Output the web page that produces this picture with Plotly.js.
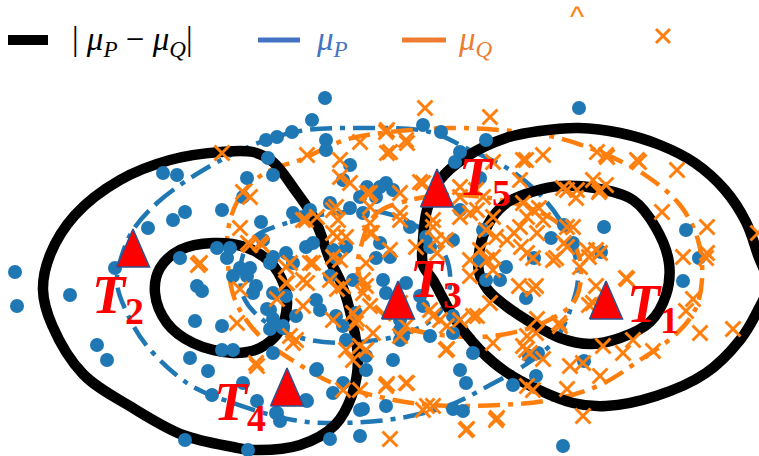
<!DOCTYPE html>
<html>
<head>
<meta charset="utf-8">
<script src="https://cdn.plot.ly/plotly-3.0.1.min.js"></script>
<style>html,body{margin:0;padding:0;background:#fff;}#chart{width:759px;height:456px;}</style>
</head>
<body>
<div id="chart"></div>
<script>
// ---- contour lines (|muP - muQ|, black) ----
var diffOuterLeftX = [220,253,273,295,315,330,342,352,358,352,335,300,253,233,183,133,83,52,43,50,75,120,170,220];
var diffOuterLeftY = [152,152,162,190,220,260,285,320,360,395,425,445,450,447,435,408,374,325,290,255,215,180,160,152];
var diffInnerLeftX = [213,245,270,284,287,280,260,233,193,167,155,160,180,213];
var diffInnerLeftY = [243,247,262,285,305,330,348,353,343,323,293,268,250,243];
var diffOuterRightX = [423,423,427,440,466,506,540,579,620,660,695,725,746,758,768,757,740,706,656,606,573,539,506,480,453,433,423];
var diffOuterRightY = [265,240,210,180,157,138,131,128,133,145,163,190,222,255,285,312,340,373,396,406,403,390,372,350,316,280,265];
var diffInnerRightX = [479,481,492,508,535,560,595,633,656,669,666,650,620,590,560,530,506,488,479];
var diffInnerRightY = [272,243,218,202,191,186,188,200,228,263,295,322,338,344,338,322,306,290,272];

// ---- muP contours (blue dash-dot) ----
var muPOuterX = [133,157,200,253,300,360,430,470,510,545,568,578,572,555,525,490,450,400,340,293,233,190,147,127,117,122,133];
var muPOuterY = [230,203,172,145,131,128,132,150,170,200,235,275,305,340,365,385,405,418,423,420,403,385,346,313,283,255,230];
var muPInnerX = [257,290,320,350,385,420,445,450,440,410,360,310,270,245,240,245,257];
var muPInnerY = [235,222,215,212,213,228,255,285,312,332,342,340,325,300,272,250,235];

// ---- muQ contours (orange dash-dot) ----
var muQOuterX = [228,238,255,275,300,345,390,450,500,550,600,645,680,698,702,695,675,640,600,550,500,430,380,330,300,270,250,235,228,228];
var muQOuterY = [230,200,180,168,160,140,132,128,130,136,152,175,205,240,280,310,335,360,385,400,405,405,397,382,365,345,325,300,265,230];
var muQInnerX = [360,375,410,460,520,560,580,575,545,500,450,400,370,358,360];
var muQInnerY = [250,215,200,195,205,225,260,300,322,335,336,325,300,270,250];

// ---- samples from P (blue circles) ----
var pX = [325,312,292,277,266,326,326,268,273,350,343,367,163,177,247,185,173,148,222,243,180,115,15,217,230,227,240,250,293,310,330,350,363,261,303,423,441,486,460,455,480,386,380,360,376,393,410,426,453,460,430,263,273,286,306,313,333,346,380,390,376,483,480,270,293,336,579,564,551,604,573,601,534,686,699,506,
          17,70,97,107,185,248,195,222,190,208,222,233,197,202,243,212,233,247,253,267,273,270,283,317,307,277,280,257,333,363,330,360,
          256,273,270,286,316,320,296,283,273,316,343,306,276,360,386,393,346,343,356,366,366,336,330,353,383,386,406,423,420,403,430,453,473,460,466,453,463,400,400,400,486,500,453,
          683,526,536,513,584,538,529,563];
var pY = [98,120,132,137,140,140,150,158,175,165,180,187,173,175,178,212,220,228,210,197,258,268,272,248,248,258,268,268,213,210,203,208,213,222,217,125,132,140,152,162,178,183,187,197,197,190,227,237,240,210,247,240,257,253,247,243,250,247,243,257,258,230,260,263,263,258,108,225,238,227,243,252,258,230,258,267,
          306,295,345,360,440,450,321,326,358,371,350,350,286,291,383,395,276,276,293,309,319,329,328,369,401,413,421,401,393,409,439,436,
          286,293,310,296,300,310,316,326,353,370,383,400,413,410,406,360,340,326,313,356,370,316,276,280,280,293,283,306,296,336,336,333,353,370,383,409,411,340,330,320,280,280,316,
          281,298,376,385,361,353,356,446];

// ---- samples from Q (orange crosses) ----
var qX = [222,243,240,248,198,360,307,340,340,350,250,303,317,333,338,370,367,337,372,250,262,200,290,310,333,
          425,490,386,406,390,420,400,370,400,336,306,333,370,370,346,260,286,313,340,366,390,416,433,436,446,460,470,493,486,496,480,470,493,493,460,476,
          387,407,387,523,543,493,597,607,637,677,662,707,707,520,567,577,593,600,423,460,483,477,433,400,523,533,527,543,520,537,567,507,527,553,567,587,600,580,487,437,526,606,639,563,606,576,599,683,706,539,514,521,573,564,556,533,589,596,758,
          470,533,627,593,693,700,733,490,477,447,433,537,560,527,603,623,653,570,600,543,530,523,527,567,583,493,447,427,407,387,497,467,390,536,519,596,626,589,686,559,633,583,526,536,533,
          286,303,330,343,363,363,303,333,353,356,296,346,353,360,366,343,360,386,406,423,433,466,256,473,446,460,406,400,400,430,440,496,366,240,237,257,277,290,293,287,307,337,357,370,373];
var qY = [153,192,228,243,265,142,155,160,177,183,197,220,217,210,220,207,193,237,233,245,245,263,263,263,257,
          108,117,132,140,152,182,193,193,213,207,220,233,223,233,237,243,267,263,260,263,250,247,227,240,240,217,213,217,230,237,250,260,257,270,187,190,
          130,143,153,160,155,162,152,157,160,170,212,227,253,180,190,190,180,190,183,197,197,210,220,220,203,210,217,220,227,233,227,240,253,260,247,250,253,267,260,253,160,155,162,188,185,198,192,257,258,208,233,247,227,243,258,258,257,250,233,
          276,289,279,303,299,333,329,303,316,326,316,319,326,336,346,353,351,366,376,359,353,346,386,389,416,343,349,406,383,384,418,429,439,286,286,286,278,305,311,323,340,363,350,333,390,
          283,280,280,286,280,293,306,320,313,323,340,350,360,346,350,390,390,386,383,410,406,430,363,316,350,320,326,336,303,310,320,420,286,289,323,366,299,336,343,283,283,289,319,306,333];

// ---- reference points T1..T5 ----
var tX = [606,133,398,287,437];
var tY = [300,248,300,387,188];
var tNames = ['1','2','3','4','5'];
var tLabelX = [653,118,436,240,485];
var tLabelY = [307,298,282,405,180];

// ---- legend labels ----
var legendLabels = ['| <i>μ</i><sub><i>P</i></sub> − <i>μ</i><sub><i>Q</i></sub>|', '<i>μ</i><sub><i>P</i></sub>', '<i>μ</i><sub><i>Q</i></sub>'];

var BLACK = '#000000', BLUE = '#1f77b4', ORANGE = '#ff7f0e';
var DASH = '22px,8px,5px,8px';
var traces = [];
function curve(x, y, color, width, dash) {
  traces.push({x: x, y: y, type: 'scatter', mode: 'lines', hoverinfo: 'skip', showlegend: false,
    line: {color: color, width: width, dash: dash || 'solid', shape: 'spline', smoothing: 1}});
}
curve(muPOuterX, muPOuterY, BLUE, 4.5, DASH);
curve(muPInnerX, muPInnerY, BLUE, 4.5, DASH);
curve(muQOuterX, muQOuterY, ORANGE, 4.5, DASH);
curve(muQInnerX, muQInnerY, ORANGE, 4.5, DASH);
curve(diffOuterLeftX, diffOuterLeftY, BLACK, 10.5);
curve(diffInnerLeftX, diffInnerLeftY, BLACK, 10.5);
curve(diffOuterRightX, diffOuterRightY, BLACK, 10.5);
curve(diffInnerRightX, diffInnerRightY, BLACK, 10.5);

traces.push({x: pX, y: pY, type: 'scatter', mode: 'markers', showlegend: false, hoverinfo: 'skip',
  marker: {symbol: 'circle', size: 14, color: BLUE, line: {width: 0}}});
traces.push({x: qX, y: qY, type: 'scatter', mode: 'markers', showlegend: false, hoverinfo: 'skip',
  marker: {symbol: 'x-thin', size: 15, color: ORANGE, line: {width: 3, color: ORANGE}}});

// triangles built from centres
var HW = 16.5, HH = 19;
var triX = [], triY = [];
for (var i = 0; i < tX.length; i++) {
  triX.push(tX[i] - HW, tX[i] + HW, tX[i], tX[i] - HW, null);
  triY.push(tY[i] + HH, tY[i] + HH, tY[i] - HH, tY[i] + HH, null);
}
traces.push({x: triX, y: triY, type: 'scatter', mode: 'lines', fill: 'toself', fillcolor: '#ff0000',
  showlegend: false, hoverinfo: 'skip', line: {color: '#2f528f', width: 1.5}});

var annotations = [];
for (var j = 0; j < tX.length; j++) {
  annotations.push({x: tLabelX[j], y: tLabelY[j], xref: 'x', yref: 'y', showarrow: false,
    text: '<i>T</i><sub>' + tNames[j] + '</sub>', xanchor: 'center', yanchor: 'middle',
    font: {family: 'Liberation Serif', size: 54, color: '#ff0000', weight: 'bold'}});
}
var W = 759, H = 456;
function px(v) { return v / W; }
function py(v) { return 1 - v / H; }
var legendText = [{x: 70, c: '#000000'}, {x: 314, c: '#4472c4'}, {x: 456, c: '#ed7d31'}];
for (var k = 0; k < legendLabels.length; k++) {
  annotations.push({x: px(legendText[k].x), y: py(42), xref: 'paper', yref: 'paper', showarrow: false,
    xanchor: 'left', yanchor: 'middle', text: legendLabels[k],
    font: {family: 'Liberation Serif', size: 33, color: legendText[k].c}});
}
annotations.push({x: px(577), y: py(16), xref: 'paper', yref: 'paper', showarrow: false,
  xanchor: 'center', yanchor: 'middle', text: '^', font: {family: 'Liberation Sans', size: 30, color: ORANGE}});

var shapes = [
  {type: 'line', xref: 'paper', yref: 'paper', x0: px(8), x1: px(48), y0: py(40), y1: py(40), line: {color: '#000', width: 10}},
  {type: 'line', xref: 'paper', yref: 'paper', x0: px(258), x1: px(300), y0: py(40), y1: py(40), line: {color: '#4472c4', width: 5}},
  {type: 'line', xref: 'paper', yref: 'paper', x0: px(402), x1: px(446), y0: py(40), y1: py(40), line: {color: '#ed7d31', width: 5}},
  {type: 'line', xref: 'paper', yref: 'paper', x0: px(656), x1: px(670), y0: py(29), y1: py(43), line: {color: ORANGE, width: 3}},
  {type: 'line', xref: 'paper', yref: 'paper', x0: px(656), x1: px(670), y0: py(43), y1: py(29), line: {color: ORANGE, width: 3}}
];

var layout = {
  width: W, height: H, margin: {l: 0, r: 0, t: 0, b: 0}, showlegend: false,
  paper_bgcolor: '#ffffff', plot_bgcolor: '#ffffff',
  xaxis: {range: [0, W], visible: false, showgrid: false, zeroline: false, fixedrange: true},
  yaxis: {range: [H, 0], visible: false, showgrid: false, zeroline: false, fixedrange: true},
  annotations: annotations, shapes: shapes
};
Plotly.newPlot('chart', traces, layout, {staticPlot: true, displayModeBar: false});
</script>
</body>
</html>
